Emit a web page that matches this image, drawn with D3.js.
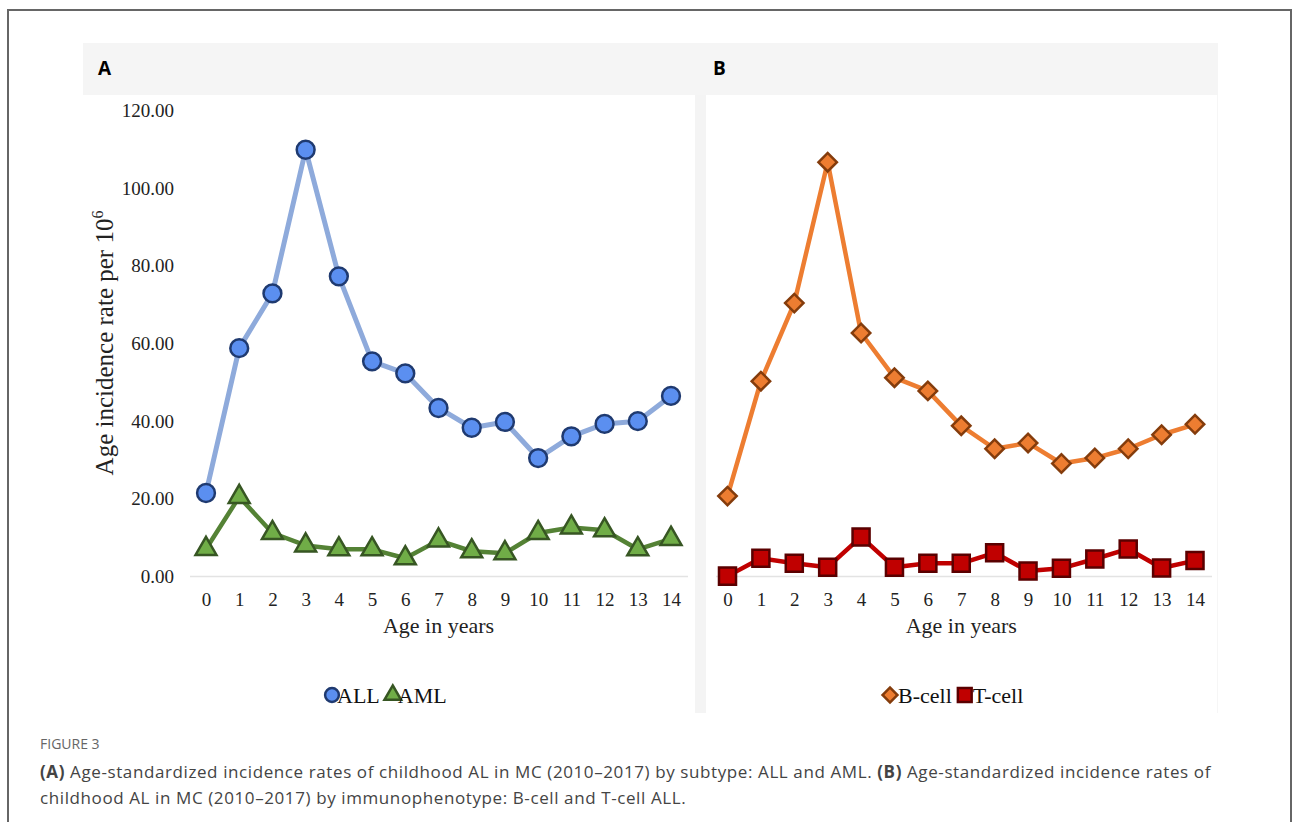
<!DOCTYPE html>
<html>
<head>
<meta charset="utf-8">
<script src="https://cdn.jsdelivr.net/npm/d3@7"></script>
<style>
  body { margin: 0; background: #fff; }
  svg { display: block; }
  .tick text { font-family: "Liberation Serif", "Times New Roman", serif; fill: #222; }
</style>
</head>
<body>
<svg id="chart" width="1293" height="822"></svg>
<script>
// age groups on the x axis
const ages = [0, 1, 2, 3, 4, 5, 6, 7, 8, 9, 10, 11, 12, 13, 14];
// panel A: subtype
const allRates = [21.5, 58.8, 72.9, 109.9, 77.3, 55.4, 52.3, 43.4, 38.3, 39.8, 30.5, 36.1, 39.3, 40.0, 46.5];
const amlRates = [7.1, 20.5, 11.2, 8.0, 7.0, 7.0, 4.7, 9.3, 6.5, 6.0, 11.2, 12.6, 11.9, 7.0, 9.7];
// panel B: immunophenotype
const bCellRates = [20.7, 50.3, 70.4, 106.7, 62.7, 51.2, 47.8, 38.8, 32.9, 34.4, 29.1, 30.5, 32.9, 36.5, 39.2];
const tCellRates = [0.1, 4.7, 3.4, 2.4, 10.2, 2.4, 3.4, 3.4, 6.1, 1.4, 2.1, 4.5, 7.1, 2.2, 4.1];
const yTicks = [0, 20, 40, 60, 80, 100, 120];

const svg = d3.select("#chart");

// outer frame
svg.append("path").attr("d", "M8,822 V10 H1291 V822")
  .attr("fill", "none").attr("stroke", "#666").attr("stroke-width", 2);

// header band + panel letters
svg.append("rect").attr("x", 83).attr("y", 43).attr("width", 1135).attr("height", 52).attr("fill", "#f5f5f5");
svg.append("text").attr("x", 98).attr("y", 75).text("A")
  .style("font-family", "Open Sans, sans-serif").style("font-weight", "bold").style("font-size", "19px");
svg.append("text").attr("x", 713).attr("y", 75).text("B")
  .style("font-family", "Open Sans, sans-serif").style("font-weight", "bold").style("font-size", "19px");

// panel separator and faint panel edges
svg.append("rect").attr("x", 695).attr("y", 95).attr("width", 11).attr("height", 618).attr("fill", "#f4f4f4");
svg.append("line").attr("x1", 1217.5).attr("x2", 1217.5).attr("y1", 95).attr("y2", 713).attr("stroke", "#f6f6f6");

let y = d3.scaleLinear().domain([0, 120]).range([576.5, 110.5]);
let xA = d3.scalePoint().domain(ages).range([206, 671]);
let xB = d3.scalePoint().domain(ages).range([727.5, 1195]);

// y axis (panel A only)
let yAxis = svg.append("g").attr("transform", "translate(174,0)")
  .call(d3.axisLeft(y).tickValues(yTicks).tickSize(0).tickPadding(0).tickFormat(d3.format(".2f")));
yAxis.select(".domain").remove();
yAxis.selectAll("text").style("font-size", "19px");

svg.append("text")
  .attr("transform", "translate(113,343) rotate(-90)")
  .attr("text-anchor", "middle")
  .style("font-family", "Liberation Serif, serif").style("font-size", "25px").style("fill", "#222")
  .html('Age incidence rate per 10<tspan dy="-10" font-size="16px">6</tspan>');

function drawPanel(x, x0, x1, series, legendItems, legendX, gap) {
  svg.append("line").attr("x1", x0).attr("x2", x1).attr("y1", y(0)).attr("y2", y(0))
    .attr("stroke", "#e3e3e3").attr("stroke-width", 1.5);

  let xAxis = svg.append("g").attr("transform", "translate(0," + (y(0) + 12) + ")")
    .call(d3.axisBottom(x).tickSize(0).tickPadding(0));
  xAxis.select(".domain").remove();
  xAxis.selectAll("text").style("font-size", "19px").attr("dy", "0.9em");

  svg.append("text").attr("x", (x.range()[0] + x.range()[1]) / 2).attr("y", 633)
    .attr("text-anchor", "middle")
    .style("font-family", "Liberation Serif, serif").style("font-size", "22px").style("fill", "#222")
    .text("Age in years");

  let line = d3.line().x((d, i) => x(ages[i])).y(d => y(d));

  series.forEach(s => {
    svg.append("path").datum(s.values).attr("d", line)
      .attr("fill", "none").attr("stroke", s.line).attr("stroke-width", s.width)
      .attr("stroke-linejoin", "round");
    svg.selectAll(null).data(s.values).enter().append("path")
      .attr("d", d3.symbol().type(s.symbol).size(s.size))
      .attr("transform", (d, i) => "translate(" + x(ages[i]) + "," + y(d) + ")" + (s.rotate ? " rotate(45)" : ""))
      .attr("fill", s.fill).attr("stroke", s.stroke).attr("stroke-width", 2.5);
  });

  // legend: marker sits right against its label
  let lx = legendX;
  legendItems.forEach(item => {
    let s = series[item.index];
    svg.append("path")
      .attr("d", d3.symbol().type(s.symbol).size(item.size))
      .attr("transform", "translate(" + lx + ",695)" + (s.rotate ? " rotate(45)" : ""))
      .attr("fill", s.fill).attr("stroke", s.stroke).attr("stroke-width", 2.5);
    let t = svg.append("text").attr("x", lx + gap).attr("y", 703)
      .style("font-family", "Liberation Serif, serif").style("font-size", "22px").style("fill", "#111")
      .text(item.label);
    lx += gap + t.node().getComputedTextLength() + 13;
  });
}

drawPanel(xA, 190, 688, [
  { values: allRates, line: "#8eaadb", width: 5, symbol: d3.symbolCircle, size: 250, fill: "#5b8ff0", stroke: "#1f3a70" },
  { values: amlRates, line: "#548235", width: 4.5, symbol: d3.symbolTriangle, size: 190, fill: "#70ad47", stroke: "#375623" }
], [{ index: 0, label: "ALL", size: 150 }, { index: 1, label: "AML", size: 120 }], 332, 5);

drawPanel(xB, 716, 1212, [
  { values: bCellRates, line: "#ed7d31", width: 4.5, symbol: d3.symbolSquare, size: 170, fill: "#ed7d31", stroke: "#843c0c", rotate: true },
  { values: tCellRates, line: "#c00000", width: 4.5, symbol: d3.symbolSquare, size: 290, fill: "#c00000", stroke: "#5a0000" }
], [{ index: 0, label: "B-cell", size: 110 }, { index: 1, label: "T-cell", size: 190 }], 890, 8);

// caption
const capFont = "Open Sans, sans-serif";
svg.append("text").attr("x", 40).attr("y", 749).text("FIGURE 3")
  .style("font-family", capFont).style("font-size", "14px").style("fill", "#666");
let cap1 = svg.append("text").attr("x", 40).attr("y", 778)
  .style("font-family", capFont).style("font-size", "17px").style("fill", "#444").style("letter-spacing", "0.6px");
cap1.append("tspan").style("font-weight", "bold").text("(A)");
cap1.append("tspan").text(" Age-standardized incidence rates of childhood AL in MC (2010\u20132017) by subtype: ALL and AML. ");
cap1.append("tspan").style("font-weight", "bold").text("(B)");
cap1.append("tspan").text(" Age-standardized incidence rates of");
svg.append("text").attr("x", 40).attr("y", 804)
  .style("font-family", capFont).style("font-size", "17px").style("fill", "#444").style("letter-spacing", "0.6px")
  .text("childhood AL in MC (2010\u20132017) by immunophenotype: B-cell and T-cell ALL.");
</script>
</body>
</html>
